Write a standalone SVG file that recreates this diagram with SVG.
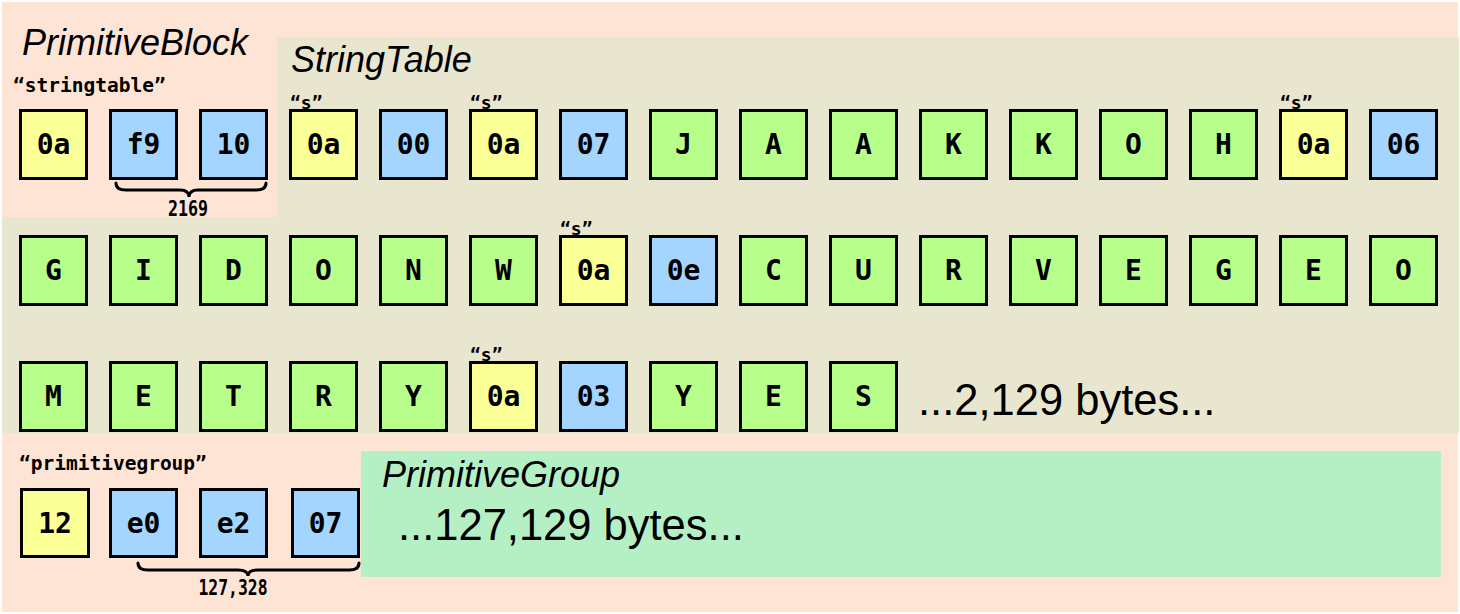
<svg xmlns="http://www.w3.org/2000/svg" width="1460" height="614" viewBox="0 0 1460 614">
<style>
.b{stroke:#000;stroke-width:3}
.y{fill:#FAFF96}
.u{fill:#A3D5FE}
.g{fill:#B7FE8A}
.t{font-family:"DejaVu Sans Mono","Liberation Mono",monospace;font-weight:bold;font-size:28px;text-anchor:middle;fill:#000}
.q{font-family:"DejaVu Sans Mono","Liberation Mono",monospace;font-weight:bold;font-size:19.5px;fill:#000}
.s{font-family:"DejaVu Sans Mono","Liberation Mono",monospace;font-weight:bold;font-size:18px;fill:#000}
.n{font-family:"DejaVu Sans Mono","Liberation Mono",monospace;font-weight:bold;font-size:21px;text-anchor:middle;fill:#000}
.h{font-family:"Liberation Sans",Arial,sans-serif;font-style:italic;font-size:36px;fill:#000}
.big{font-family:"Liberation Sans",Arial,sans-serif;font-size:43.5px;fill:#000}
.br{fill:none;stroke:#000;stroke-width:3;stroke-linecap:round}
</style>
<rect width="1460" height="614" fill="#fff"/>
<g id="primitiveblock">
<rect x="2" y="2" width="1456" height="610" fill="#FEE4D4"/>
<text class="h" x="22" y="55">PrimitiveBlock</text>
<text class="q" x="13" y="92">“stringtable”</text>
<text class="q" x="19" y="470">“primitivegroup”</text>
</g>
<g id="stringtable">
<polygon points="277,37 1459,37 1459,433 2,433 2,217 277,217" fill="#E9E6D0"/>
<text class="h" x="291" y="72">StringTable</text>
<text class="big" x="918" y="415">...2,129 bytes...</text>
</g>
<g id="primitivegroup">
<rect x="361" y="451" width="1080" height="126" fill="#B5F0C5"/>
<text class="h" x="382" y="487">PrimitiveGroup</text>
<text class="big" x="398" y="540">...127,129 bytes...</text>
</g>
<g id="row1">
<g id="r1c0"><rect class="b y" x="20.5" y="110.5" width="66" height="68"/><text class="t" x="53.5" y="154">0a</text></g>
<g id="r1c1"><rect class="b u" x="110.5" y="110.5" width="66" height="68"/><text class="t" x="143.5" y="154">f9</text></g>
<g id="r1c2"><rect class="b u" x="200.5" y="110.5" width="66" height="68"/><text class="t" x="233.5" y="154">10</text></g>
<g id="r1c3"><rect class="b y" x="290.5" y="110.5" width="66" height="68"/><text class="t" x="323.5" y="154">0a</text><text class="s" x="290" y="109">“s”</text></g>
<g id="r1c4"><rect class="b u" x="380.5" y="110.5" width="66" height="68"/><text class="t" x="413.5" y="154">00</text></g>
<g id="r1c5"><rect class="b y" x="470.5" y="110.5" width="66" height="68"/><text class="t" x="503.5" y="154">0a</text><text class="s" x="470" y="109">“s”</text></g>
<g id="r1c6"><rect class="b u" x="560.5" y="110.5" width="66" height="68"/><text class="t" x="593.5" y="154">07</text></g>
<g id="r1c7"><rect class="b g" x="650.5" y="110.5" width="66" height="68"/><text class="t" x="683.5" y="154">J</text></g>
<g id="r1c8"><rect class="b g" x="740.5" y="110.5" width="66" height="68"/><text class="t" x="773.5" y="154">A</text></g>
<g id="r1c9"><rect class="b g" x="830.5" y="110.5" width="66" height="68"/><text class="t" x="863.5" y="154">A</text></g>
<g id="r1c10"><rect class="b g" x="920.5" y="110.5" width="66" height="68"/><text class="t" x="953.5" y="154">K</text></g>
<g id="r1c11"><rect class="b g" x="1010.5" y="110.5" width="66" height="68"/><text class="t" x="1043.5" y="154">K</text></g>
<g id="r1c12"><rect class="b g" x="1100.5" y="110.5" width="66" height="68"/><text class="t" x="1133.5" y="154">O</text></g>
<g id="r1c13"><rect class="b g" x="1190.5" y="110.5" width="66" height="68"/><text class="t" x="1223.5" y="154">H</text></g>
<g id="r1c14"><rect class="b y" x="1280.5" y="110.5" width="66" height="68"/><text class="t" x="1313.5" y="154">0a</text><text class="s" x="1280" y="109">“s”</text></g>
<g id="r1c15"><rect class="b u" x="1370.5" y="110.5" width="66" height="68"/><text class="t" x="1403.5" y="154">06</text></g>
</g>
<g id="row2">
<g id="r2c0"><rect class="b g" x="20.5" y="236.5" width="66" height="68"/><text class="t" x="53.5" y="280">G</text></g>
<g id="r2c1"><rect class="b g" x="110.5" y="236.5" width="66" height="68"/><text class="t" x="143.5" y="280">I</text></g>
<g id="r2c2"><rect class="b g" x="200.5" y="236.5" width="66" height="68"/><text class="t" x="233.5" y="280">D</text></g>
<g id="r2c3"><rect class="b g" x="290.5" y="236.5" width="66" height="68"/><text class="t" x="323.5" y="280">O</text></g>
<g id="r2c4"><rect class="b g" x="380.5" y="236.5" width="66" height="68"/><text class="t" x="413.5" y="280">N</text></g>
<g id="r2c5"><rect class="b g" x="470.5" y="236.5" width="66" height="68"/><text class="t" x="503.5" y="280">W</text></g>
<g id="r2c6"><rect class="b y" x="560.5" y="236.5" width="66" height="68"/><text class="t" x="593.5" y="280">0a</text><text class="s" x="560" y="235">“s”</text></g>
<g id="r2c7"><rect class="b u" x="650.5" y="236.5" width="66" height="68"/><text class="t" x="683.5" y="280">0e</text></g>
<g id="r2c8"><rect class="b g" x="740.5" y="236.5" width="66" height="68"/><text class="t" x="773.5" y="280">C</text></g>
<g id="r2c9"><rect class="b g" x="830.5" y="236.5" width="66" height="68"/><text class="t" x="863.5" y="280">U</text></g>
<g id="r2c10"><rect class="b g" x="920.5" y="236.5" width="66" height="68"/><text class="t" x="953.5" y="280">R</text></g>
<g id="r2c11"><rect class="b g" x="1010.5" y="236.5" width="66" height="68"/><text class="t" x="1043.5" y="280">V</text></g>
<g id="r2c12"><rect class="b g" x="1100.5" y="236.5" width="66" height="68"/><text class="t" x="1133.5" y="280">E</text></g>
<g id="r2c13"><rect class="b g" x="1190.5" y="236.5" width="66" height="68"/><text class="t" x="1223.5" y="280">G</text></g>
<g id="r2c14"><rect class="b g" x="1280.5" y="236.5" width="66" height="68"/><text class="t" x="1313.5" y="280">E</text></g>
<g id="r2c15"><rect class="b g" x="1370.5" y="236.5" width="66" height="68"/><text class="t" x="1403.5" y="280">O</text></g>
</g>
<g id="row3">
<g id="r3c0"><rect class="b g" x="20.5" y="362.5" width="66" height="68"/><text class="t" x="53.5" y="406">M</text></g>
<g id="r3c1"><rect class="b g" x="110.5" y="362.5" width="66" height="68"/><text class="t" x="143.5" y="406">E</text></g>
<g id="r3c2"><rect class="b g" x="200.5" y="362.5" width="66" height="68"/><text class="t" x="233.5" y="406">T</text></g>
<g id="r3c3"><rect class="b g" x="290.5" y="362.5" width="66" height="68"/><text class="t" x="323.5" y="406">R</text></g>
<g id="r3c4"><rect class="b g" x="380.5" y="362.5" width="66" height="68"/><text class="t" x="413.5" y="406">Y</text></g>
<g id="r3c5"><rect class="b y" x="470.5" y="362.5" width="66" height="68"/><text class="t" x="503.5" y="406">0a</text><text class="s" x="470" y="361">“s”</text></g>
<g id="r3c6"><rect class="b u" x="560.5" y="362.5" width="66" height="68"/><text class="t" x="593.5" y="406">03</text></g>
<g id="r3c7"><rect class="b g" x="650.5" y="362.5" width="66" height="68"/><text class="t" x="683.5" y="406">Y</text></g>
<g id="r3c8"><rect class="b g" x="740.5" y="362.5" width="66" height="68"/><text class="t" x="773.5" y="406">E</text></g>
<g id="r3c9"><rect class="b g" x="830.5" y="362.5" width="66" height="68"/><text class="t" x="863.5" y="406">S</text></g>
</g>
<g id="row4">
<g id="r4c0"><rect class="b y" x="21.5" y="489.5" width="67" height="67"/><text class="t" x="55" y="533">12</text></g>
<g id="r4c1"><rect class="b u" x="110.5" y="489.5" width="66" height="67"/><text class="t" x="143.5" y="533">e0</text></g>
<g id="r4c2"><rect class="b u" x="200.5" y="489.5" width="66" height="67"/><text class="t" x="233.5" y="533">e2</text></g>
<g id="r4c3"><rect class="b u" x="292.5" y="489.5" width="66" height="67"/><text class="t" x="325.5" y="533">07</text></g>
</g>
<g id="connectors">
<path class="br" d="M116,183 Q116,190 126,190 L180,190 Q189,190 189,197 Q189,190 198,190 L256,190 Q266,190 266,183"/>
<text class="n" x="188" y="216" textLength="40" lengthAdjust="spacingAndGlyphs">2169</text>
<path class="br" d="M138,563 Q138,570 148,570 L238,570 Q248,570 248,576 Q248,570 258,570 L349,570 Q359,570 359,563"/>
<text class="n" x="233" y="595" textLength="69" lengthAdjust="spacingAndGlyphs">127,328</text>
</g>
</svg>
